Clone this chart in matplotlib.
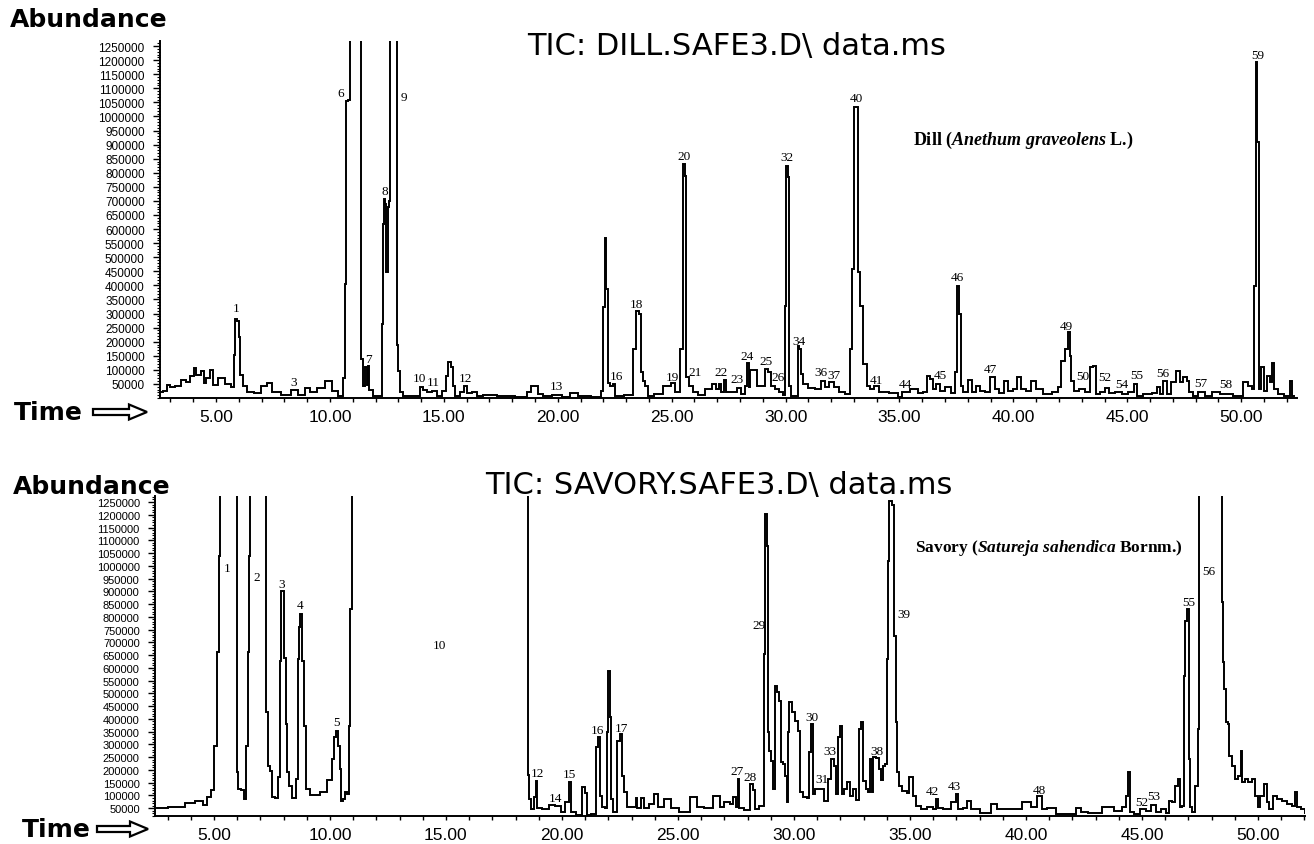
import matplotlib
matplotlib.use("Agg")
import matplotlib.pyplot as plt
from matplotlib.ticker import FixedLocator, MultipleLocator, FixedFormatter
from matplotlib.patches import FancyArrow
from matplotlib.transforms import IdentityTransform

plt.rcParams["mathtext.fontset"] = "custom"
plt.rcParams["mathtext.rm"] = "Liberation Serif:bold"
plt.rcParams["mathtext.bf"] = "Liberation Serif:bold"
plt.rcParams["mathtext.it"] = "Liberation Serif:italic:bold"

# ---------------- data ----------------
OFF = 3000000  # off-scale (clipped) peak tops

dill_trace = [
    (2.55, 20000), (2.76, 26000), (2.90, 46000), (3.05, 39000), (3.34, 44000), (3.56, 65000),
    (3.78, 58000), (3.96, 79000), (4.07, 105000), (4.21, 82000), (4.43, 96000), (4.51, 53000),
    (4.65, 72000), (4.80, 101000), (4.90, 46000), (5.24, 70000), (5.53, 50000), (5.75, 39000),
    (5.79, 153000), (5.87, 281000), (5.97, 275000), (6.03, 215000), (6.11, 82000), (6.24, 44000),
    (6.49, 22000), (6.85, 18000), (7.14, 41000), (7.32, 52000), (7.58, 22000), (8.10, 12000),
    (8.46, 27000), (8.76, 12000), (9.02, 34000), (9.20, 22000), (9.64, 34000), (9.93, 62000),
    (10.22, 26000), (10.48, 8000), (10.63, 70000), (10.71, 405000), (10.74, 1056000),
    (10.86, 1060000), (10.88, OFF), (11.37, OFF), (11.40, 138000), (11.50, 44000),
    (11.60, 110000), (11.64, 45000), (11.68, 113000), (11.78, 30000), (12.00, 8000),
    (12.25, 8000), (12.30, 263000), (12.34, 618000), (12.41, 707000), (12.46, 690000),
    (12.50, 447000), (12.59, 680000), (12.63, 700000), (12.68, OFF), (12.92, OFF),
    (12.93, 305000), (12.98, 190000), (13.02, 97000), (13.10, 21000), (13.30, 8000),
    (13.88, 8000), (14.02, 38000), (14.16, 30000), (14.38, 22000), (14.61, 25000), (14.83, 8000),
    (15.05, 26000), (15.15, 79000), (15.25, 129000), (15.34, 109000), (15.42, 44000),
    (15.56, 8000), (15.85, 20000), (15.96, 44000), (16.07, 18000), (16.40, 22000), (16.51, 8000),
    (16.95, 10000), (17.68, 7000), (18.56, 5000), (18.71, 20000), (18.97, 41000), (19.30, 14000),
    (19.44, 8000), (20.02, 12000), (20.32, 5000), (20.76, 18000), (21.05, 8000), (21.85, 4000),
    (21.95, 26000), (22.01, 322000), (22.10, 568000), (22.16, 387000), (22.22, 55000),
    (22.33, 41000), (22.48, 50000), (22.58, 8000), (23.24, 10000), (23.39, 174000),
    (23.51, 310000), (23.62, 298000), (23.68, 91000), (23.80, 62000), (23.90, 44000),
    (24.00, 8000), (24.41, 13000), (24.85, 41000), (25.07, 52000), (25.26, 20000),
    (25.44, 174000), (25.53, 831000), (25.61, 790000), (25.67, 73000), (25.81, 44000),
    (26.03, 20000), (26.32, 10000), (26.61, 32000), (26.90, 50000), (27.02, 32000),
    (27.12, 50000), (27.22, 20000), (27.34, 65000), (27.46, 20000), (27.78, 20000),
    (27.96, 34000), (28.15, 13000), (28.25, 44000), (28.34, 123000), (28.41, 39000),
    (28.51, 98000), (28.73, 98000), (28.80, 44000), (29.02, 44000), (29.17, 103000),
    (29.32, 91000), (29.42, 44000), (29.61, 32000), (29.83, 20000), (29.95, 12000),
    (30.00, 328000), (30.06, 825000), (30.15, 785000), (30.19, 44000), (30.30, 8000),
    (30.49, 8000), (30.56, 186000), (30.66, 174000), (30.71, 85000), (30.82, 50000),
    (31.15, 34000), (31.44, 32000), (31.63, 62000), (31.80, 39000), (31.99, 56000),
    (32.24, 39000), (32.46, 20000), (32.78, 13000), (32.87, 174000), (32.94, 458000),
    (33.05, 1032000), (33.12, 1032000), (33.20, 446000), (33.34, 328000), (33.49, 121000),
    (33.63, 44000), (33.78, 32000), (33.96, 44000), (34.22, 20000), (34.88, 18000),
    (34.98, 5000), (35.25, 22000), (35.69, 32000), (35.97, 18000), (36.12, 20000),
    (36.27, 79000), (36.41, 67000), (36.53, 32000), (36.71, 50000), (36.85, 26000),
    (37.14, 39000), (37.36, 18000), (37.50, 91000), (37.57, 399000), (37.66, 298000),
    (37.72, 44000), (37.88, 20000), (38.10, 64000), (38.24, 20000), (38.46, 44000),
    (38.61, 26000), (38.87, 20000), (39.12, 73000), (39.27, 32000), (39.49, 18000),
    (39.71, 62000), (39.86, 26000), (40.07, 32000), (40.25, 73000), (40.44, 32000),
    (40.66, 26000), (40.87, 62000), (41.09, 32000), (41.53, 13000), (41.83, 20000),
    (42.05, 39000), (42.16, 133000), (42.34, 174000), (42.44, 236000), (42.50, 150000),
    (42.56, 62000), (42.73, 26000), (43.00, 32000), (43.29, 20000), (43.44, 109000),
    (43.55, 115000), (43.66, 13000), (43.95, 20000), (44.10, 34000), (44.31, 18000),
    (44.61, 20000), (44.90, 13000), (45.19, 20000), (45.37, 50000), (45.48, 8000),
    (45.92, 13000), (46.22, 18000), (46.36, 39000), (46.51, 13000), (46.66, 62000),
    (46.80, 13000), (47.02, 56000), (47.24, 95000), (47.39, 56000), (47.53, 73000),
    (47.68, 62000), (47.77, 22000), (47.97, 8000), (48.26, 20000), (48.56, 8000),
    (48.85, 22000), (49.29, 13000), (49.95, 8000), (50.17, 58000), (50.39, 44000),
    (50.53, 32000), (50.61, 399000), (50.68, 1192000), (50.75, 909000), (50.81, 32000),
    (50.93, 109000), (51.05, 26000), (51.19, 79000), (51.31, 56000), (51.41, 124000),
    (51.51, 32000), (51.70, 13000), (52.07, 8000), (52.19, 62000), (52.30, 8000),
]

savory_trace = [
    (2.53, 50000), (3.52, 54000), (3.97, 70000), (4.40, 80000), (4.66, 64000), (4.76, 93000),
    (4.97, 123000), (5.06, 295000), (5.19, 661000), (5.26, 1040000), (5.30, OFF), (5.98, OFF),
    (6.00, 191000), (6.08, 125000), (6.28, 120000), (6.35, 86000), (6.42, 295000),
    (6.50, 661000), (6.55, 1040000), (6.58, OFF), (7.25, OFF), (7.27, 426000), (7.35, 217000),
    (7.49, 197000), (7.55, 93000), (7.74, 89000), (7.82, 171000), (7.88, 628000),
    (7.92, 900000), (8.02, 900000), (8.06, 640000), (8.13, 380000), (8.20, 191000),
    (8.30, 138000), (8.39, 89000), (8.53, 89000), (8.58, 165000), (8.63, 635000),
    (8.68, 759000), (8.78, 811000), (8.83, 628000), (8.92, 374000), (9.05, 125000),
    (9.21, 102000), (9.43, 102000), (9.71, 115000), (10.00, 162000), (10.14, 243000),
    (10.23, 328000), (10.33, 354000), (10.40, 295000), (10.46, 204000), (10.52, 80000),
    (10.62, 86000), (10.72, 115000), (10.79, 106000), (10.83, 374000), (10.90, 831000),
    (11.00, OFF), (18.50, OFF), (18.58, 180000), (18.62, 86000), (18.74, 47000),
    (18.84, 93000), (18.91, 158000), (18.98, 52000), (19.34, 47000), (19.56, 62000),
    (19.85, 57000), (20.06, 34000), (20.23, 73000), (20.35, 154000), (20.40, 34000),
    (20.78, 24000), (20.92, 132000), (21.03, 110000), (21.09, 24000), (21.42, 27000),
    (21.49, 289000), (21.62, 328000), (21.68, 99000), (21.78, 53000), (21.93, 50000),
    (21.97, 348000), (22.03, 589000), (22.08, 406000), (22.14, 86000), (22.28, 34000),
    (22.43, 315000), (22.57, 341000), (22.64, 178000), (22.74, 112000), (22.86, 53000),
    (23.15, 53000), (23.22, 89000), (23.29, 50000), (23.52, 89000), (23.58, 50000),
    (23.89, 67000), (24.07, 104000), (24.22, 53000), (24.61, 86000), (24.80, 50000),
    (25.30, 34000), (25.76, 93000), (25.91, 53000), (26.31, 50000), (26.74, 99000),
    (26.85, 53000), (27.14, 76000), (27.34, 67000), (27.45, 96000), (27.54, 53000),
    (27.61, 165000), (27.67, 50000), (28.03, 44000), (28.17, 145000), (28.29, 120000),
    (28.38, 47000), (28.58, 60000), (28.68, 60000), (28.72, 654000), (28.82, 1203000),
    (28.86, 1079000), (28.90, 349000), (28.97, 276000), (29.07, 236000), (29.14, 125000),
    (29.21, 530000), (29.30, 504000), (29.41, 471000), (29.47, 230000), (29.58, 223000),
    (29.66, 178000), (29.73, 73000), (29.77, 349000), (29.84, 465000), (29.99, 426000),
    (30.13, 393000), (30.22, 354000), (30.33, 112000), (30.48, 96000), (30.62, 89000),
    (30.69, 269000), (30.79, 380000), (30.83, 106000), (31.02, 125000), (31.19, 125000),
    (31.41, 80000), (31.55, 165000), (31.68, 243000), (31.79, 217000), (31.88, 106000),
    (31.94, 328000), (32.03, 373000), (32.08, 106000), (32.20, 125000), (32.34, 154000),
    (32.49, 99000), (32.63, 125000), (32.75, 84000), (32.85, 360000), (32.95, 387000),
    (33.03, 155000), (33.18, 125000), (33.23, 112000), (33.32, 243000), (33.38, 112000),
    (33.46, 250000), (33.61, 246000), (33.72, 204000), (33.81, 162000), (33.89, 217000),
    (33.99, 223000), (34.00, 635000), (34.07, 1020000), (34.14, 1255000), (34.29, 1238000),
    (34.35, 726000), (34.41, 387000), (34.46, 191000), (34.57, 138000), (34.79, 118000),
    (34.93, 109000), (35.00, 171000), (35.12, 171000), (35.17, 99000), (35.36, 59000),
    (35.57, 47000), (35.93, 53000), (36.08, 47000), (36.15, 86000), (36.24, 50000),
    (36.58, 47000), (36.94, 73000), (37.01, 106000), (37.13, 47000), (37.41, 50000),
    (37.51, 80000), (37.73, 47000), (38.30, 31000), (38.66, 66000), (38.88, 47000),
    (39.60, 47000), (40.10, 73000), (40.32, 53000), (40.60, 99000), (40.75, 47000),
    (41.11, 50000), (41.47, 28000), (42.04, 28000), (42.26, 50000), (42.47, 36000),
    (42.90, 30000), (43.62, 56000), (43.98, 40000), (44.27, 53000), (44.37, 99000),
    (44.46, 191000), (44.50, 34000), (44.78, 26000), (45.06, 47000), (45.28, 40000),
    (45.49, 62000), (45.71, 34000), (45.92, 47000), (46.14, 31000), (46.18, 80000),
    (46.38, 73000), (46.50, 138000), (46.58, 165000), (46.67, 53000), (46.75, 59000),
    (46.84, 569000), (46.91, 785000), (47.00, 831000), (47.04, 243000), (47.13, 53000),
    (47.21, 34000), (47.36, 138000), (47.46, 360000), (47.50, OFF), (48.43, OFF),
    (48.45, 857000), (48.50, 622000), (48.60, 517000), (48.65, 387000), (48.76, 380000),
    (48.79, 256000), (48.94, 217000), (49.08, 165000), (49.22, 178000), (49.30, 276000),
    (49.37, 151000), (49.51, 165000), (49.66, 151000), (49.80, 165000), (49.94, 99000),
    (50.06, 53000), (50.16, 99000), (50.35, 145000), (50.40, 73000), (50.59, 47000),
    (50.73, 99000), (50.95, 86000), (51.16, 80000), (51.38, 66000), (51.52, 57000),
    (51.67, 112000), (51.74, 53000), (51.95, 47000), (52.10, 31000),
]

# peak numbers: (label, time, abundance at label centre)
dill_peaks = [
    ("1", 5.87, 318000), ("3", 8.41, 56000), ("6", 10.47, 1083000), ("7", 11.71, 138000),
    ("8", 12.41, 734000), ("9", 13.26, 1070000), ("10", 13.92, 71000), ("11", 14.53, 58000),
    ("12", 15.96, 71000), ("13", 19.95, 44000), ("16", 22.58, 79000), ("18", 23.46, 334000),
    ("19", 25.03, 76000), ("20", 25.55, 860000), ("21", 26.05, 93000), ("22", 27.16, 91000),
    ("23", 27.88, 67000), ("24", 28.29, 148000), ("25", 29.14, 132000), ("26", 29.68, 76000),
    ("32", 30.05, 856000), ("34", 30.59, 204000), ("36", 31.54, 93000), ("37", 32.12, 82000),
    ("40", 33.09, 1065000), ("41", 34.00, 64000), ("44", 35.27, 50000), ("45", 36.78, 82000),
    ("46", 37.55, 429000), ("47", 39.00, 103000), ("49", 42.31, 257000), ("50", 43.04, 79000),
    ("52", 44.00, 73000), ("54", 44.75, 50000), ("55", 45.41, 82000), ("56", 46.58, 88000),
    ("57", 48.24, 53000), ("58", 49.33, 50000), ("59", 50.71, 1218000),
]

savory_peaks = [
    ("1", 5.59, 991000), ("2", 6.84, 957000), ("3", 7.92, 929000), ("4", 8.71, 847000),
    ("5", 10.29, 387000), ("10", 14.74, 690000), ("12", 18.94, 187000), ("14", 19.71, 89000),
    ("15", 20.34, 183000), ("16", 21.54, 356000), ("17", 22.57, 364000), ("27", 27.56, 197000),
    ("28", 28.13, 174000), ("29", 28.49, 769000), ("30", 30.76, 406000), ("31", 31.19, 165000),
    ("33", 31.55, 273000), ("38", 33.56, 275000), ("39", 34.75, 811000), ("42", 35.98, 119000),
    ("43", 36.90, 136000), ("48", 40.60, 123000), ("52", 45.00, 73000), ("53", 45.49, 99000),
    ("55", 47.00, 859000), ("56", 47.89, 981000),
]

y_ticks = list(range(50000, 1250001, 50000))
y_labels = [str(v) for v in y_ticks]
x_ticks = [5, 10, 15, 20, 25, 30, 35, 40, 45, 50]
x_labels = ["5.00", "10.00", "15.00", "20.00", "25.00", "30.00", "35.00", "40.00", "45.00", "50.00"]

W, H = 1314, 845
fig = plt.figure(figsize=(W / 100, H / 100), dpi=100)
fig.patch.set_facecolor("white")


def px_axes(left, top, right, bottom):
    return [left / W, 1 - bottom / H, (right - left) / W, (bottom - top) / H]


def style_axes(ax, ylabel_size):
    for s in ("top", "right"):
        ax.spines[s].set_visible(False)
    for s in ("left", "bottom"):
        ax.spines[s].set_linewidth(1.4)
    ax.yaxis.set_major_locator(FixedLocator(y_ticks))
    ax.yaxis.set_major_formatter(FixedFormatter(y_labels))
    ax.yaxis.set_minor_locator(MultipleLocator(10000))
    ax.xaxis.set_major_locator(FixedLocator(x_ticks))
    ax.xaxis.set_major_formatter(FixedFormatter(x_labels))
    ax.xaxis.set_minor_locator(MultipleLocator(1))
    ax.tick_params(axis="y", which="major", direction="out", length=5, width=1.0,
                   labelsize=ylabel_size, pad=6)
    ax.tick_params(axis="y", which="minor", direction="out", length=2.5, width=0.8)
    ax.tick_params(axis="x", which="major", direction="out", length=3, width=1.0,
                   labelsize=12.5, pad=5)
    ax.tick_params(axis="x", which="minor", direction="out", length=3, width=1.0)
    for lab in ax.get_yticklabels() + ax.get_xticklabels():
        lab.set_family("Liberation Sans")


def draw_panel(ax, trace, peaks):
    t = [p[0] for p in trace]
    v = [p[1] for p in trace]
    ax.plot(t, v, color="black", lw=1.4, drawstyle="steps-mid", solid_joinstyle="miter")
    for lab, tt, vv in peaks:
        ax.text(tt, vv, lab, ha="center", va="center", fontsize=9.5,
                family="Liberation Serif", clip_on=False)


# ---- top panel (Dill) ----
ax1 = fig.add_axes(px_axes(160, 42, 1297, 399))
draw_panel(ax1, dill_trace, dill_peaks)
ax1.set_xlim(2.54, 52.45)
ax1.set_ylim(0, 1268000)
style_axes(ax1, 8.5)

# ---- bottom panel (Savory) ----
ax2 = fig.add_axes(px_axes(155, 497, 1305, 817))
draw_panel(ax2, savory_trace, savory_peaks)
ax2.set_xlim(2.46, 52.03)
ax2.set_ylim(19600, 1273500)
style_axes(ax2, 8)


def ftext(x, y, s, **kw):
    fig.text(x / W, 1 - y / H, s, **kw)


for (x, y) in [(10, 20), (13, 487)]:
    ftext(x, y, "Abundance", fontsize=18, family="DejaVu Sans", weight="bold",
          va="center", ha="left")
for (x, y) in [(14, 413), (22, 830)]:
    ftext(x, y, "Time", fontsize=18, family="DejaVu Sans", weight="bold",
          va="center", ha="left")

ftext(737, 47, r"TIC: DILL.SAFE3.D\ data.ms", fontsize=22, family="DejaVu Sans",
      va="center", ha="center")
ftext(719, 486, r"TIC: SAVORY.SAFE3.D\ data.ms", fontsize=22, family="DejaVu Sans",
      va="center", ha="center")

ftext(913, 140, r"Dill ($\mathit{Anethum\ graveolens}$ L.)", fontsize=13,
      family="Liberation Serif", weight="bold", va="center", ha="left")
ftext(915, 548, r"Savory ($\mathit{Satureja\ sahendica}$ Bornm.)", fontsize=12.5,
      family="Liberation Serif", weight="bold", va="center", ha="left")

for (x0, x1, yc) in [(93, 147, 413), (97, 148, 830)]:
    arr = FancyArrow(x0, H - yc, x1 - x0, 0, width=6, head_width=15, head_length=18,
                     length_includes_head=True, transform=IdentityTransform(),
                     facecolor="white", edgecolor="black", lw=1.6)
    fig.add_artist(arr)

fig.savefig("out.png", dpi=100, facecolor="white")
